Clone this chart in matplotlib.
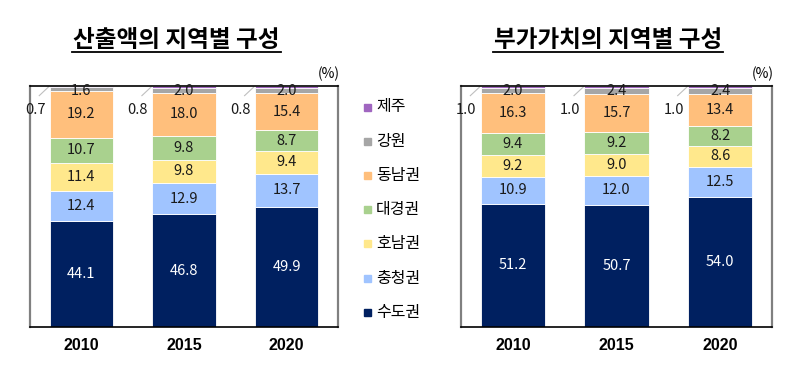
import numpy as np
import matplotlib.pyplot as plt
from matplotlib.patches import Rectangle
from matplotlib.lines import Line2D

plt.rcParams['font.family'] = ['Noto Sans CJK KR', 'DejaVu Sans']

years = ['2010', '2015', '2020']
regions = ['수도권', '충청권', '호남권', '대경권', '동남권', '강원', '제주']
colors = ['#002060', '#A0C4FF', '#FFE88C', '#A9D18E', '#FFBF7C', '#A6A6A6', '#A066C0']

# 산출액
out_sudo = [44.1, 46.8, 49.9]
out_chung = [12.4, 12.9, 13.7]
out_honam = [11.4, 9.8, 9.4]
out_daegyeong = [10.7, 9.8, 8.7]
out_dongnam = [19.2, 18.0, 15.4]
out_gangwon = [1.6, 2.0, 2.0]
out_jeju = [0.7, 0.8, 0.8]

# 부가가치
va_sudo = [51.2, 50.7, 54.0]
va_chung = [10.9, 12.0, 12.5]
va_honam = [9.2, 9.0, 8.6]
va_daegyeong = [9.4, 9.2, 8.2]
va_dongnam = [16.3, 15.7, 13.4]
va_gangwon = [2.0, 2.4, 2.4]
va_jeju = [1.0, 1.0, 1.0]

W, H = 801, 367
fig = plt.figure(figsize=(W / 100, H / 100), dpi=100)


def px(x0, y0, w, h):
    return [x0 / W, 1 - (y0 + h) / H, w / W, h / H]


def draw_panel(ax, series, title, tx, ul):
    x = np.arange(len(years))
    bottom = np.zeros(len(years))
    for i, (vals, c) in enumerate(zip(series, colors)):
        vals = np.array(vals)
        ax.bar(x, vals, 0.62, bottom=bottom, color=c, edgecolor='white', linewidth=0.6)
        for j in range(len(years)):
            if i <= 4:
                tc = 'white' if i == 0 else '#1a1a1a'
                ax.text(x[j], bottom[j] + vals[j] / 2, f'{vals[j]:.1f}', ha='center',
                        va='center', fontsize=10.5, color=tc)
            elif i == 5:
                ax.text(x[j], 98.0, f'{vals[j]:.1f}', ha='center', va='center',
                        fontsize=10.5, color='#1a1a1a')
            else:
                ax.text(x[j] - 0.45, 90.2, f'{vals[j]:.1f}', ha='center', va='center',
                        fontsize=10.5, color='#1a1a1a')
                ax.plot([x[j] - 0.41, x[j] - 0.32], [96, 99.6], color='#BFBFBF', lw=0.8)
        bottom += vals
    ax.set_xlim(-0.5, 2.5)
    ax.set_ylim(0, 100)
    ax.set_yticks([])
    ax.set_xticks(x)
    ax.set_xticklabels(years, fontweight='bold', fontsize=11.5,
                       family=['Liberation Sans', 'DejaVu Sans'])
    ax.tick_params(axis='x', length=0, pad=8)
    for s in ['left', 'right']:
        ax.spines[s].set_color('#808080')
        ax.spines[s].set_linewidth(1.6)
    for s in ['top', 'bottom']:
        ax.spines[s].set_color('black')
        ax.spines[s].set_linewidth(1.2)
    ax.text(1.005, 1.02, '(%)', transform=ax.transAxes, ha='right', va='bottom', fontsize=10)
    fig.text(tx / W, 1 - 40 / H, title, ha='center', va='center', fontsize=17,
             fontweight='bold')
    fig.add_artist(Line2D([ul[0] / W, ul[1] / W], [1 - 52 / H, 1 - 52 / H],
                          color='black', lw=1.3))


ax1 = fig.add_axes(px(30, 86, 308, 241))
draw_panel(ax1, [out_sudo, out_chung, out_honam, out_daegyeong, out_dongnam,
                 out_gangwon, out_jeju], '산출액의 지역별 구성', 176, (72, 281))

ax2 = fig.add_axes(px(461, 86, 311, 241))
draw_panel(ax2, [va_sudo, va_chung, va_honam, va_daegyeong, va_dongnam,
                 va_gangwon, va_jeju], '부가가치의 지역별 구성', 608, (493, 723))

# legend
for k, (name, c) in enumerate(zip(regions[::-1], colors[::-1])):
    yy = 107 + k * 34.2
    fig.add_artist(Rectangle(((367 - 3.5) / W, 1 - (yy + 3.5) / H), 7 / W, 7 / H,
                             color=c, transform=fig.transFigure))
    fig.text(376 / W, 1 - yy / H, name, ha='left', va='center', fontsize=11.5)

fig.savefig('out.png', dpi=100)
